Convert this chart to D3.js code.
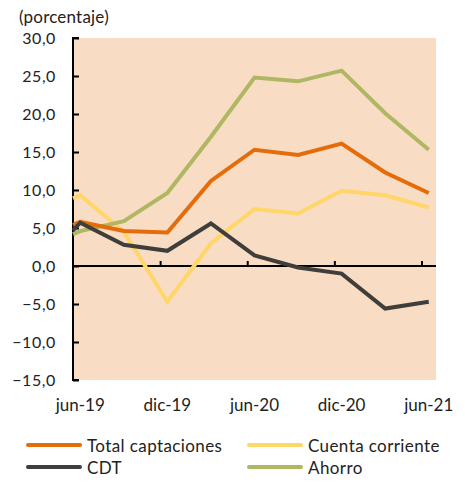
<!DOCTYPE html>
<html>
<head>
<meta charset="utf-8">
<script src="https://cdn.jsdelivr.net/npm/d3@7"></script>
<style>
  body { margin: 0; background: #fff; }
  svg { display: block; font-family: Lato, "Open Sans", sans-serif; fill: #222; }
</style>
</head>
<body>
<svg width="465" height="483"></svg>
<script>
// months from jun-19 (0) to jun-21 (24); first point sits on the left edge
const months = [-0.5, 0, 3, 6, 9, 12, 15, 18, 21, 24];
const totalCaptaciones = [5.4, 5.8, 4.6, 4.4, 11.2, 15.3, 14.6, 16.1, 12.3, 9.6];
const cuentaCorriente = [8.9, 9.3, 4.5, -4.7, 3.0, 7.5, 6.9, 9.9, 9.3, 7.7];
const cdt = [4.7, 5.7, 2.8, 2.0, 5.6, 1.4, -0.2, -1.0, -5.6, -4.7];
const ahorro = [4.2, 4.6, 5.9, 9.6, 17.0, 24.8, 24.3, 25.7, 20.1, 15.3];

const xLabels = ['jun-19', 'dic-19', 'jun-20', 'dic-20', 'jun-21'];
const xLabelMonths = [0, 6, 12, 18, 24];
const xTickMonths = [5.5, 11.5, 17.5, 23.5];
const yTicks = [-15, -10, -5, 0, 5, 10, 15, 20, 25, 30];

const svg = d3.select('svg');
const plotL = 73, plotR = 436, plotT = 38, plotB = 380;

const x = d3.scaleLinear().domain([-0.5, 24.5]).range([plotL, plotR]);
const y = d3.scaleLinear().domain([-15, 30]).range([plotB, plotT]);
const fmt = v => d3.format('.1f')(v).replace('.', ',');

// background of the plot
svg.append('rect')
    .attr('x', plotL).attr('y', plotT)
    .attr('width', plotR - plotL).attr('height', plotB - plotT)
    .attr('fill', '#F9DCC4');

// unit caption
svg.append('text')
    .attr('x', 19).attr('y', 23)
    .style('font-size', '17px')
    .style('letter-spacing', '0.2px')
    .text('(porcentaje)');

// y axis, ticks point into the plot
const yAxis = svg.append('g')
    .attr('transform', `translate(${plotL},0)`)
    .call(d3.axisRight(y).tickValues(yTicks).tickSize(6).tickFormat(''));
yAxis.select('.domain').attr('stroke', '#000').attr('stroke-width', 2)
    .attr('d', `M6,${plotB}H0V${plotT}H6`);
yAxis.selectAll('.tick line').attr('stroke', '#000').attr('stroke-width', 2);

svg.append('g').selectAll('text')
    .data(yTicks)
    .join('text')
    .attr('x', 56)
    .attr('y', d => y(d) + 5.5)
    .attr('text-anchor', 'end')
    .style('font-size', '16px')
    .style('letter-spacing', '0.6px')
    .text(fmt);

// zero line with small ticks between periods
const zeroAxis = svg.append('g')
    .attr('transform', `translate(0,${y(0)})`)
    .call(d3.axisTop(x).tickValues(xTickMonths).tickSize(5).tickFormat(''));
zeroAxis.select('.domain').attr('stroke', '#000').attr('stroke-width', 2)
    .attr('d', `M${plotL},0H${plotR}`);
zeroAxis.selectAll('.tick line').attr('stroke', '#000').attr('stroke-width', 2);

// x labels below the plot
svg.append('g').selectAll('text')
    .data(xLabels)
    .join('text')
    .attr('x', (d, i) => x(xLabelMonths[i]))
    .attr('y', 411)
    .attr('text-anchor', 'middle')
    .style('font-size', '17px')
    .text(d => d);

const series = [
    { name: 'Total captaciones', values: totalCaptaciones, color: '#E46C0A' },
    { name: 'Cuenta corriente', values: cuentaCorriente, color: '#FFD668' },
    { name: 'CDT', values: cdt, color: '#403E3B' },
    { name: 'Ahorro', values: ahorro, color: '#B0B763' }
];

const line = d3.line()
    .x((d, i) => x(months[i]))
    .y(d => y(d));

// draw order: yellow, green, orange, gray on top
[1, 3, 0, 2].forEach(k => {
    svg.append('path')
        .datum(series[k].values)
        .attr('d', line)
        .attr('fill', 'none')
        .attr('stroke', series[k].color)
        .attr('stroke-width', 4)
        .attr('stroke-linejoin', 'miter');
});

// legend in two columns
const legendPos = [[28, 445], [249, 445], [28, 467], [249, 467]];
series.forEach((s, i) => {
    const [lx, ly] = legendPos[i];
    svg.append('line')
        .attr('x1', lx).attr('x2', lx + 52)
        .attr('y1', ly).attr('y2', ly)
        .attr('stroke', s.color).attr('stroke-width', 4)
        .attr('stroke-linecap', 'round');
    svg.append('text')
        .attr('x', lx + 59).attr('y', ly + 6.5)
        .style('font-size', '17px')
        .style('letter-spacing', '0.4px')
        .text(s.name);
});
</script>
</body>
</html>
